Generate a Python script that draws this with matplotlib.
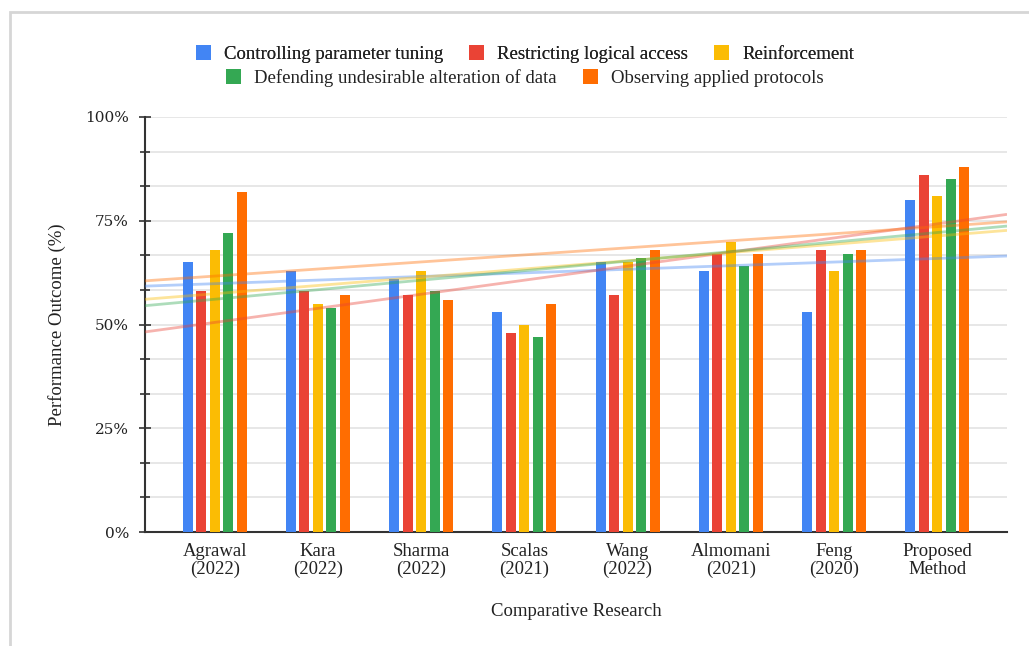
import numpy as np
import matplotlib
matplotlib.use("Agg")
import matplotlib.pyplot as plt
from matplotlib.patches import Rectangle, Patch
from matplotlib.ticker import FuncFormatter

categories = ["Agrawal\n(2022)", "Kara\n(2022)", "Sharma\n(2022)", "Scalas\n(2021)",
              "Wang\n(2022)", "Almomani\n(2021)", "Feng\n(2020)", "Proposed\nMethod"]
series_names = ["Controlling parameter tuning", "Restricting logical access", "Reinforcement",
                "Defending undesirable alteration of data", "Observing applied protocols"]
controlling = [65, 63, 61, 53, 65, 63, 53, 80]
restricting = [58, 58, 57, 48, 57, 67, 68, 86]
reinforcement = [68, 55, 63, 50, 65, 70, 63, 81]
defending = [72, 54, 58, 47, 66, 64, 67, 85]
observing = [82, 57, 56, 55, 68, 67, 68, 88]
series = [controlling, restricting, reinforcement, defending, observing]
colors = ["#4285F4", "#EA4335", "#FBBC04", "#34A853", "#FF6D01"]
y_ticks = [0, 25, 50, 75, 100]

FONT = "Liberation Serif"
W, H = 1029, 646
fig = plt.figure(figsize=(W / 100, H / 100), dpi=100)
ax = fig.add_axes([145 / W, 1 - 532 / H, (1007 - 145) / W, (532 - 117) / H])

x = np.arange(len(categories))
step = 0.131
width = 0.097
xlim = (-0.675, 7.675)
for i, (vals, c) in enumerate(zip(series, colors)):
    ax.bar(x + (i - 2) * step, vals, width=width, color=c, zorder=3)
for vals, c in zip(series, colors):
    k, b = np.polyfit(x, vals, 1)
    xs = np.array(xlim)
    ax.plot(xs, k * xs + b, color=c, alpha=0.4, lw=2, zorder=4, solid_capstyle="butt")

ax.set_xlim(*xlim)
ax.set_ylim(0, 100)
ax.set_yticks(y_ticks)
ax.set_yticks(np.arange(0, 100.1, 25 / 3), minor=True)
ax.yaxis.set_major_formatter(FuncFormatter(lambda v, p: f"{int(v)}%"))
ax.tick_params(axis="y", which="major", direction="inout", length=9, width=1.2, color="#333333",
               labelsize=11, pad=7)
ax.tick_params(axis="y", which="minor", direction="inout", length=7, width=1.2, color="#333333")
for lab in ax.get_yticklabels():
    lab.set_fontfamily("DejaVu Serif")
    lab.set_color("#222222")
ax.grid(axis="y", which="both", color="#e3e3e3", lw=1.2, zorder=0)
ax.set_xticks(x)
ax.set_xticklabels(categories, fontfamily=FONT, fontsize=13.5, color="#222222", linespacing=1.05)
ax.tick_params(axis="x", length=0, pad=8)
for s in ["top", "right"]:
    ax.spines[s].set_visible(False)
ax.spines["left"].set_color("#333333")
ax.spines["left"].set_linewidth(1.5)
ax.spines["bottom"].set_color("#333333")
ax.spines["bottom"].set_linewidth(1.5)
ax.set_axisbelow(True)

ax.set_xlabel("Comparative Research", fontfamily=FONT, fontsize=13.5, color="#222222", labelpad=18)
ax.set_ylabel("Performance Outcome (%)", fontfamily=FONT, fontsize=13.5, color="#222222", labelpad=14)

handles = [Patch(facecolor=c, edgecolor="none") for c in colors]
leg1 = fig.legend(handles[:3], series_names[:3], loc="center", bbox_to_anchor=(525 / W, 1 - 54 / H),
                  ncol=3, frameon=False, prop={"family": FONT, "size": 13.5}, handlelength=0.8,
                  handleheight=0.9, handletextpad=0.7, columnspacing=1.4, borderaxespad=0)
leg2 = fig.legend(handles[3:], series_names[3:], loc="center", bbox_to_anchor=(525 / W, 1 - 78 / H),
                  ncol=2, frameon=False, prop={"family": FONT, "size": 13.5}, handlelength=0.8,
                  handleheight=0.9, handletextpad=0.7, columnspacing=1.4, borderaxespad=0)
fig.add_artist(leg1)
for t in leg1.get_texts() + leg2.get_texts():
    t.set_color("#222222")

fig.add_artist(Rectangle((10 / W, -0.2), 1.3, 1.2 - 12 / H, transform=fig.transFigure,
                         fill=False, edgecolor="#d6d6d6", lw=2, clip_on=False))

fig.savefig("out.png", dpi=100)
